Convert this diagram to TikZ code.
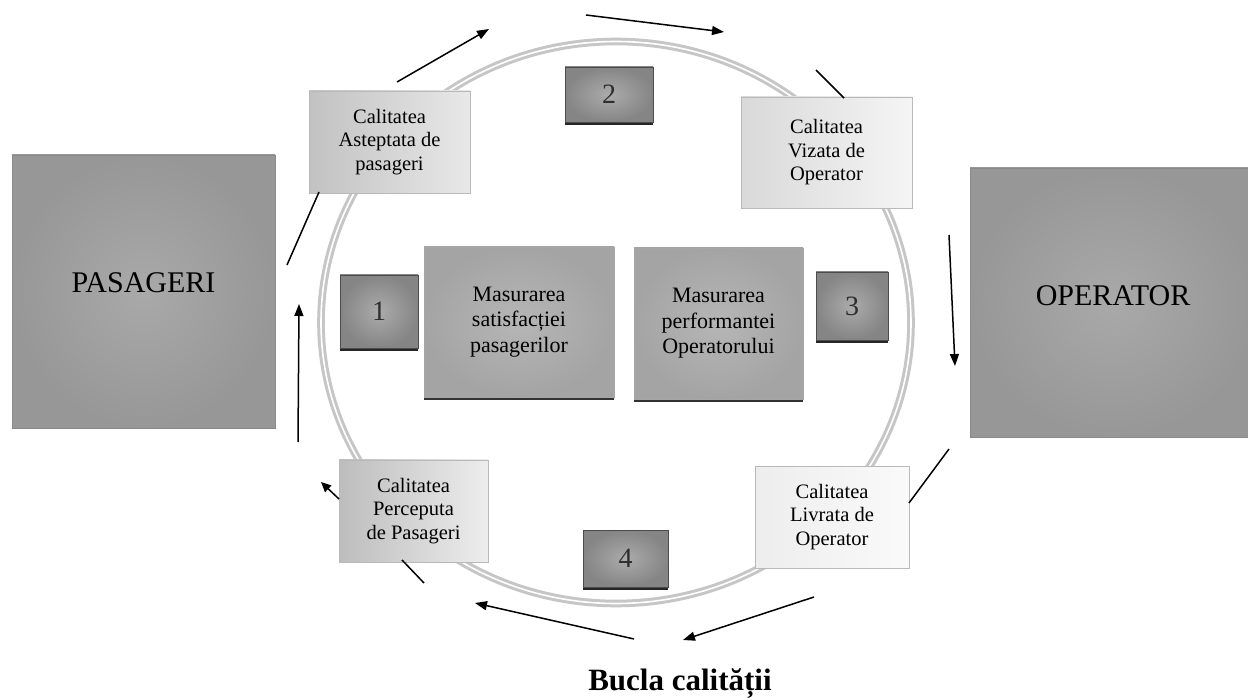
\documentclass[tikz,border=0pt]{standalone}
\usepackage{fontspec}
\setmainfont{Liberation Serif}
\usetikzlibrary{arrows.meta}
\definecolor{bigout}{HTML}{979797}
\definecolor{bigin}{HTML}{A9A9A9}
\definecolor{midout}{HTML}{A4A4A4}
\definecolor{midin}{HTML}{B6B6B6}
\definecolor{numout}{HTML}{858585}
\definecolor{numin}{HTML}{ABABAB}
\definecolor{ringc}{HTML}{C6C6C6}
\definecolor{edgec}{HTML}{8A8A8A}
\definecolor{numtext}{HTML}{2E2E2E}
\tikzset{
  bigbox/.style={draw=edgec, line width=0.6pt, shading=radial, inner color=bigin, outer color=bigout,
     text=black, font=\fontsize{30}{34}\selectfont, inner sep=0pt,
     preaction={fill=black!70, transform canvas={yshift=-1.5pt}}},
  qualbox/.style={draw=gray!55, line width=0.5pt, align=center, text=black, font=\fontsize{20.5}{23.5}\selectfont, inner sep=0pt},
  midbox/.style={shading=radial, inner color=midin, outer color=midout, draw=gray!70, line width=0.4pt, align=center, text=black,
     font=\fontsize{22}{25.5}\selectfont, inner sep=0pt,
     preaction={fill=black!80, transform canvas={yshift=-3pt}}},
  numbox/.style={shading=radial, inner color=numin, outer color=numout, draw=gray!60!black, line width=0.4pt, text=numtext,
     font=\fontsize{28}{30}\selectfont, inner sep=0pt,
     preaction={fill=black!85, transform canvas={yshift=-3pt}}},
  ring/.style={draw=ringc, line width=3pt, double=white, double distance=1.6pt},
  flow/.style={line width=1.5pt, black, -{Triangle[length=12pt,width=9pt]}},
  plain/.style={line width=1.5pt, black},
}
\begin{document}
\begin{tikzpicture}[x=1pt,y=-1pt]
\useasboundingbox (0,0) rectangle (1248,700);
\fill[white] (0,0) rectangle (1248,700);
% ring
\draw[ring] (616,322.5) ellipse [x radius=295, y radius=281];
% big boxes
\node[bigbox, minimum width=263pt, minimum height=273pt, text height=20pt, text depth=17pt] (pas) at (143.5,291.5) {PASAGERI};
\node[bigbox, minimum width=286pt, minimum height=269pt, text height=20pt, text depth=14pt] (op) at (1113,302.5) {OPERATOR};
% quality boxes
\node[qualbox, shading angle=60, left color=gray!48, right color=gray!18, minimum width=161pt, minimum height=102pt] (ast) at (389.5,142) {Calitatea\\Asteptata de\\pasageri};
\node[qualbox, left color=gray!30, right color=gray!8, minimum width=171pt, minimum height=111pt] (viz) at (826.5,152.5) {Calitatea\\Vizata de\\Operator};
\node[qualbox, shading angle=60, left color=gray!52, right color=gray!14, minimum width=149pt, minimum height=102pt] (perc) at (413.5,511) {Calitatea\\Perceputa\\de Pasageri};
\node[qualbox, left color=gray!14, right color=gray!4, minimum width=154pt, minimum height=102pt] (livr) at (832,517) {Calitatea\\Livrata de\\Operator};
% centre boxes
\node[midbox, minimum width=190pt, minimum height=150pt] (m1) at (519,322) {Masurarea\\satisfacției\\pasagerilor};
\node[midbox, minimum width=169pt, minimum height=151pt] (m2) at (718.5,323.5) {Masurarea\\performantei\\Operatorului};
% number boxes
\node[numbox, minimum width=78pt, minimum height=73pt] (n1) at (379,311.5) {1};
\node[numbox, minimum width=88pt, minimum height=55pt] (n2) at (609,94.5) {2};
\node[numbox, minimum width=72pt, minimum height=68pt] (n3) at (852,306) {3};
\node[numbox, minimum width=85pt, minimum height=57pt] (n4) at (625.5,558.5) {4};
% title
\node[font=\fontsize{31}{34}\selectfont\bfseries, anchor=base] (title) at (680,690) {Bucla calității};
% connector end points
\coordinate (a1) at (287,265); \coordinate (a2) at (319,192);
\coordinate (b1) at (397,82);  \coordinate (b2) at (489,29);
\coordinate (c1) at (586,15);  \coordinate (c2) at (724,32);
\coordinate (d1) at (816,70);  \coordinate (d2) at (844,98);
\coordinate (e1) at (949,235); \coordinate (e2) at (955,366);
\coordinate (f1) at (949,449); \coordinate (f2) at (909,503);
\coordinate (g1) at (814,597); \coordinate (g2) at (683,640);
\coordinate (h1) at (634,639); \coordinate (h2) at (475,603);
\coordinate (i1) at (424,583); \coordinate (i2) at (402,560);
\coordinate (j1) at (339,499); \coordinate (j2) at (321,482);
\coordinate (k1) at (298,442); \coordinate (k2) at (299,304);
% connectors
\draw[plain] (a1) -- (a2);
\draw[flow] (b1) -- (b2);
\draw[flow] (c1) -- (c2);
\draw[plain] (d1) -- (d2);
\draw[flow] (e1) -- (e2);
\draw[plain] (f1) -- (f2);
\draw[flow] (g1) -- (g2);
\draw[flow] (h1) -- (h2);
\draw[plain] (i1) -- (i2);
\draw[line width=1.5pt, -{Triangle[length=10pt,width=9pt]}] (j1) -- (j2);
\draw[flow] (k1) -- (k2);
\end{tikzpicture}
\end{document}
